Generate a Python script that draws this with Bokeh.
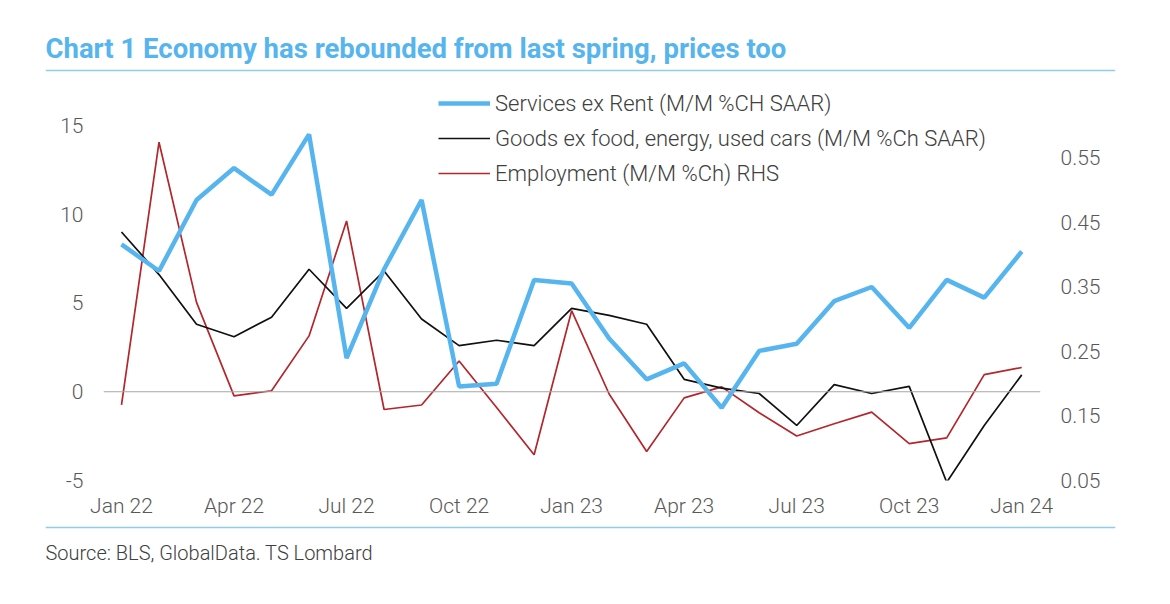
from bokeh.plotting import figure
from bokeh.layouts import column
from bokeh.models import (Range1d, LinearAxis, FixedTicker, Span, Label, Legend,
                          LegendItem, NumeralTickFormatter)
from bokeh.embed import file_html
from bokeh.resources import INLINE

# Monthly observations, Jan 2022 .. Jan 2024 (index 0 = Jan 22)
month_index = list(range(25))
tick_positions = [0, 3, 6, 9, 12, 15, 18, 21, 24]
tick_labels = ["Jan 22", "Apr 22", "Jul 22", "Oct 22", "Jan 23",
               "Apr 23", "Jul 23", "Oct 23", "Jan 24"]

services_ex_rent = [8.3, 6.8, 10.8, 12.6, 11.1, 14.5, 1.9, 6.9, 10.8, 0.3, 0.45,
                    6.3, 6.1, 3.0, 0.7, 1.6, -0.9, 2.3, 2.7, 5.1, 5.9, 3.6, 6.3,
                    5.3, 7.9]
goods_core = [9.0, 6.6, 3.8, 3.1, 4.2, 6.9, 4.7, 6.8, 4.1, 2.6, 2.9, 2.6, 4.7,
              4.3, 3.8, 0.7, 0.2, -0.1, -1.9, 0.4, -0.1, 0.3, -5.1, -1.9, 0.95]
employment = [0.167, 0.574, 0.326, 0.181, 0.189, 0.274, 0.452, 0.160, 0.167,
              0.235, 0.163, 0.090, 0.313, 0.184, 0.095, 0.178, 0.195, 0.155,
              0.119, 0.138, 0.156, 0.107, 0.116, 0.214, 0.225]

left_ticks = [-5, 0, 5, 10, 15]
left_tick_labels = ["-5", "0", "5", "10", "15"]
right_ticks = [0.05, 0.15, 0.25, 0.35, 0.45, 0.55]

title_text = "Chart 1 Economy has rebounded from last spring, prices too"
source_text = "Source: BLS, GlobalData. TS Lombard"
series_names = ["Services ex Rent (M/M %CH SAAR)",
                "Goods ex food, energy, used cars (M/M %Ch SAAR)",
                "Employment (M/M %Ch) RHS"]

BLUE = "#56B5EE"
RULE = "#8FCDF0"
RED = "#B3262B"
TEXT = "#595959"
FONT = "'Roboto Light', Roboto"
WIDTH = 1170


def strip(height):
    """A blank full-width band whose frame runs between the two rules' ends."""
    f = figure(width=WIDTH, height=height, output_backend="svg",
               toolbar_location=None, x_range=Range1d(0, 1),
               y_range=Range1d(0, height), frame_align=False,
               min_border_left=45, min_border_right=WIDTH - 1115,
               min_border_top=0, min_border_bottom=0)
    f.axis.visible = False
    f.grid.visible = False
    f.outline_line_color = None
    f.border_fill_color = "white"
    return f


# heading band
header = strip(78)
header.add_layout(Label(x=0, y=30, x_units="screen", y_units="screen",
                        text=title_text, text_font="Roboto",
                        text_font_style="bold", text_font_size="27.5px",
                        text_color=BLUE, text_baseline="alphabetic"))
header.add_layout(Span(location=8, dimension="width", line_color=RULE,
                       line_width=1.6))

# chart
p = figure(width=WIDTH, height=442, output_backend="svg", toolbar_location=None,
           x_range=Range1d(-0.48, 24.5), y_range=Range1d(-5, 17.25),
           min_border_left=103, min_border_right=130,
           min_border_top=7, min_border_bottom=40)
p.outline_line_color = None
p.xgrid.visible = False
p.ygrid.visible = False
p.border_fill_color = "white"

p.extra_y_ranges = {"emp": Range1d(0.05, 0.661875)}

for ax in (p.xaxis[0], p.yaxis[0]):
    ax.axis_line_color = None
    ax.major_tick_line_color = None
    ax.minor_tick_line_color = None
    ax.major_tick_out = 0
    ax.major_tick_in = 0
    ax.major_label_text_color = TEXT
    ax.major_label_text_font = FONT
    ax.major_label_text_font_size = "21px"

p.xaxis.ticker = FixedTicker(ticks=tick_positions)
p.xaxis.major_label_overrides = {t: s for t, s in zip(tick_positions, tick_labels)}
p.xaxis.major_label_standoff = 13
p.yaxis.ticker = FixedTicker(ticks=left_ticks)
p.yaxis.major_label_overrides = {t: s for t, s in zip(left_ticks, left_tick_labels)}
p.yaxis.major_label_standoff = 20

rax = LinearAxis(y_range_name="emp", ticker=FixedTicker(ticks=right_ticks),
                 formatter=NumeralTickFormatter(format="0.00"))
rax.axis_line_color = None
rax.major_tick_line_color = None
rax.minor_tick_line_color = None
rax.major_tick_out = 0
rax.major_tick_in = 0
rax.major_label_text_color = TEXT
rax.major_label_text_font = FONT
rax.major_label_text_font_size = "21px"
rax.major_label_standoff = 20
p.add_layout(rax, "right")

p.add_layout(Span(location=0, dimension="width", line_color="#A6A6A6",
                  line_width=1.2))

r_emp = p.line(month_index, employment, y_range_name="emp", line_color=RED,
               line_width=1.7)
r_goods = p.line(month_index, goods_core, line_color="#111111", line_width=1.7)
r_serv = p.line(month_index, services_ex_rent, line_color=BLUE, line_width=4.5)

legend = Legend(items=[LegendItem(label=series_names[0], renderers=[r_serv]),
                       LegendItem(label=series_names[1], renderers=[r_goods]),
                       LegendItem(label=series_names[2], renderers=[r_emp])],
                location=(335, 294), orientation="vertical",
                background_fill_alpha=0, border_line_color=None,
                padding=0, margin=0, spacing=9,
                glyph_width=52, glyph_height=26, label_height=26,
                label_standoff=5, label_text_font=FONT,
                label_text_font_size="22px", label_text_color="#404040")
p.add_layout(legend)

# source band
footer = strip(84)
footer.add_layout(Span(location=77, dimension="width", line_color=RULE,
                       line_width=1.6))
footer.add_layout(Label(x=0, y=52, x_units="screen", y_units="screen",
                        text=source_text, text_font=FONT,
                        text_font_size="20px", text_color="#404040",
                        text_baseline="alphabetic"))

page = column(header, p, footer, spacing=0)
open("out.html", "w").write(file_html(page, INLINE))
